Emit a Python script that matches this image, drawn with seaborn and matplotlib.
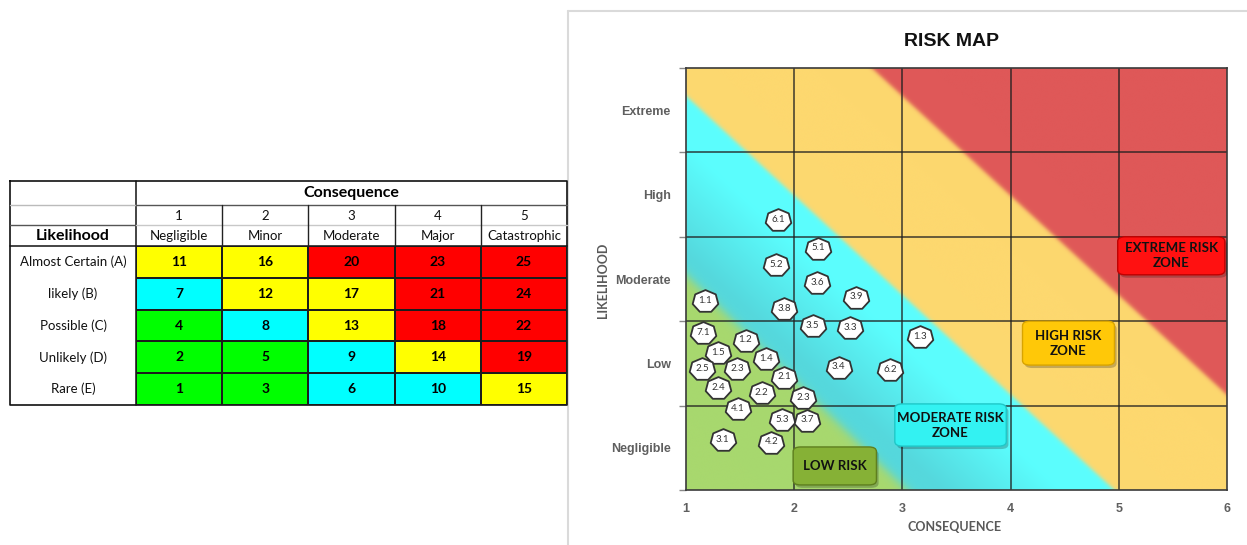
import numpy as np
import matplotlib
matplotlib.use("Agg")
import matplotlib.pyplot as plt
import seaborn as sns
from matplotlib.colors import ListedColormap, to_rgb
from matplotlib.patches import FancyBboxPatch
from matplotlib.path import Path

# ---------------- risk matrix (table) ----------------
likelihood_rows = ["Almost Certain (A)", "likely (B)", "Possible (C)", "Unlikely (D)", "Rare (E)"]
consequence_nums = ["1", "2", "3", "4", "5"]
consequence_names = ["Negligible", "Minor", "Moderate", "Major", "Catastrophic"]
risk_scores = [
    [11, 16, 20, 23, 25],
    [7, 12, 17, 21, 24],
    [4, 8, 13, 18, 22],
    [2, 5, 9, 14, 19],
    [1, 3, 6, 10, 15],
]
# rating of each cell: 0 = low, 1 = moderate, 2 = high, 3 = extreme
risk_rating = [
    [2, 2, 3, 3, 3],
    [1, 2, 2, 3, 3],
    [0, 1, 2, 3, 3],
    [0, 0, 1, 2, 3],
    [0, 0, 1, 1, 2],
]
rating_colors = ["#00FF00", "#00FFFF", "#FFFF00", "#FF0000"]

# ---------------- risk map ----------------
map_ylabels = ["Negligible", "Low", "Moderate", "High", "Extreme"]
map_xticks = [1, 2, 3, 4, 5, 6]
risk_ids = ["6.1", "5.1", "5.2", "3.6", "3.9", "1.1", "3.8", "3.5", "3.3", "1.3",
            "7.1", "1.2", "1.5", "1.4", "2.5", "2.3", "3.4", "6.2", "2.1", "2.4",
            "2.2", "2.3", "4.1", "5.3", "3.7", "3.1", "4.2"]
risk_consequence = [1.85, 2.22, 1.83, 2.21, 2.57, 1.18, 1.91, 2.17, 2.52, 3.16,
                    1.16, 1.55, 1.30, 1.74, 1.15, 1.47, 2.41, 2.89, 1.91, 1.30,
                    1.70, 2.08, 1.48, 1.89, 2.12, 1.34, 1.79]
risk_likelihood = [3.20, 2.86, 2.66, 2.45, 2.28, 2.24, 2.14, 1.94, 1.92, 1.81,
                   1.86, 1.77, 1.62, 1.55, 1.43, 1.43, 1.45, 1.42, 1.33, 1.21,
                   1.15, 1.09, 0.96, 0.83, 0.82, 0.59, 0.56]
zone_labels = ["LOW RISK", "MODERATE RISK\nZONE", "HIGH RISK\nZONE", "EXTREME RISK\nZONE"]

sns.set_theme(style="white")
plt.rcParams["font.family"] = ["Lato", "DejaVu Sans"]

W, H = 1247, 545
fig = plt.figure(figsize=(W / 100, H / 100), dpi=100)
fig.patch.set_facecolor("white")


def frac(l, t, r, b):
    return [l / W, 1 - b / H, (r - l) / W, (b - t) / H]


# pixel-space overlay for table header lines and the panel frame
ov = fig.add_axes([0, 0, 1, 1], zorder=0)
ov.set_xlim(0, W)
ov.set_ylim(H, 0)
ov.axis("off")

# panel frame around the map
ov.plot([568, 568], [H, 11], color="#DADADA", lw=1.5)
ov.plot([568, W], [11, 11], color="#DADADA", lw=1.5)

# ---- table ----
tl, tr, tt, tb = 10, 567, 181, 405
hl, ht = 136, 246
hm_ax = fig.add_axes(frac(hl, ht, tr, tb), zorder=2)
sns.heatmap(np.array(risk_rating), cmap=ListedColormap(rating_colors), vmin=-0.5, vmax=3.5,
            annot=np.array(risk_scores), fmt="d", cbar=False, linewidths=1.1, linecolor="#1c1c1c",
            annot_kws=dict(fontsize=10, fontweight="bold", color="black"),
            xticklabels=False, yticklabels=False, ax=hm_ax)
hm_ax.set_xlabel("")
hm_ax.set_ylabel("")

colw = (tr - hl) / 5
rowh = (tb - ht) / 5
ov.plot([tl, tr, tr, tl, tl], [tt, tt, tb, tb, tt], color="#111111", lw=1.2)
ov.plot([hl, hl], [tt, tb], color="#111111", lw=1.1)
ov.plot([tl, tr], [ht, ht], color="#111111", lw=1.1)
ov.plot([tl, hl], [205, 205], color="#BBBBBB", lw=1.0)
ov.plot([hl, tr], [205, 205], color="#555555", lw=1.0)
ov.plot([tl, hl], [225, 225], color="#555555", lw=1.0)
ov.plot([hl, tr], [225, 225], color="#C8C8C8", lw=1.0)
for j in range(1, 5):
    ov.plot([hl + j * colw] * 2, [205, ht], color="#222222", lw=1.0)

ov.text((hl + tr) / 2, 193, "Consequence", ha="center", va="center",
        fontsize=11.5, fontweight="bold", color="black")
ov.text((tl + hl) / 2, 236, "Likelihood", ha="center", va="center",
        fontsize=11.5, fontweight="bold", color="black")
for j in range(5):
    cx = hl + colw * (j + 0.5)
    ov.text(cx, 215.5, consequence_nums[j], ha="center", va="center", fontsize=9.5, color="#111111")
    ov.text(cx, 236, consequence_names[j], ha="center", va="center", fontsize=9.5, color="#111111")
for i, lab in enumerate(likelihood_rows):
    ov.text((tl + hl) / 2, ht + rowh * (i + 0.5), lab, ha="center", va="center",
            fontsize=9.5, color="#111111")

# ---- risk map ----
mx = fig.add_axes(frac(686, 68, 1227, 490), zorder=2)

gx = np.linspace(1, 6, 1100)
gy = np.linspace(0, 5, 860)
GX, GY = np.meshgrid(gx, gy)


def edge(m, c, w):
    s = GY + m * (GX - 1) - c
    return (1 / (1 + np.exp(-s / w)))[..., None]


green = np.array(to_rgb("#A8D86E"))
teal = np.array(to_rgb("#55D8DD"))
bright = np.array(to_rgb("#5BFEFE"))
yellow = np.array(to_rgb("#FDD86F"))
red = np.array(to_rgb("#DF5858"))

u = np.clip((GY + 1.18 * (GX - 1) - 2.8) / 1.3, 0, 1)[..., None]
cyan = teal * (1 - u) + bright * u
a1 = edge(1.25, 2.55, 0.045)
img = green * (1 - a1) + cyan * a1
a2 = edge(1.18, 4.67, 0.018)
img = img * (1 - a2) + yellow * a2
a3 = edge(1.18, 7.03, 0.018)
img = img * (1 - a3) + red * a3
mx.imshow(img, extent=(1, 6, 0, 5), origin="lower", aspect="auto", zorder=0, interpolation="bilinear")

mx.set_xlim(1, 6)
mx.set_ylim(0, 5)
for v in range(2, 6):
    mx.axvline(v, color="#202020", lw=1.2, alpha=0.8, zorder=1)
for v in range(1, 5):
    mx.axhline(v, color="#202020", lw=1.2, alpha=0.8, zorder=1)
for sp in mx.spines.values():
    sp.set_color("#3a3a3a")
    sp.set_linewidth(1.2)

# heptagon marker, slightly wider than tall
ang = np.pi / 2 + np.arange(7) * 2 * np.pi / 7
verts = np.column_stack([1.15 * np.cos(ang), np.sin(ang)])
verts = np.vstack([verts, verts[:1]])
hepta = Path(verts, [Path.MOVETO] + [Path.LINETO] * 6 + [Path.CLOSEPOLY])

sns.scatterplot(x=risk_consequence, y=risk_likelihood, marker=hepta, s=340, color="white",
                edgecolor="#333333", linewidth=1.3, zorder=5, legend=False, ax=mx)
for rid, xv, yv in zip(risk_ids, risk_consequence, risk_likelihood):
    mx.text(xv, yv + 0.01, rid, ha="center", va="center", fontsize=7, color="#333333", zorder=6)

# zone label boxes
zone_boxes = [
    (1.99, 0.06, 0.77, 0.45, "#86B136", "#5E7F1E"),
    (2.93, 0.52, 1.03, 0.50, "#33F2F2", "#1FC8C8"),
    (4.11, 1.48, 0.85, 0.52, "#FFC808", "#D9A400"),
    (4.99, 2.55, 0.99, 0.45, "#FF1111", "#C20000"),
]
asp = 84.4 / 108.2
for lab, (x0, y0, bw, bh, fc, ec) in zip(zone_labels, zone_boxes):
    sh = FancyBboxPatch((x0 + 0.02, y0 - 0.035), bw, bh, boxstyle="round,pad=0,rounding_size=0.07",
                        mutation_aspect=asp, fc="#000000", ec="none", alpha=0.22, zorder=6)
    mx.add_patch(sh)
    bx = FancyBboxPatch((x0, y0), bw, bh, boxstyle="round,pad=0,rounding_size=0.07",
                        mutation_aspect=asp, fc=fc, ec=ec, lw=1.0, zorder=7)
    mx.add_patch(bx)
    mx.text(x0 + bw / 2, y0 + bh / 2, lab, ha="center", va="center", fontsize=9.5,
            fontweight="bold", color="#111111", linespacing=1.3, zorder=8)

mx.set_xticks(map_xticks)
mx.set_xticklabels([str(v) for v in map_xticks])
mx.set_yticks(range(0, 6))
mx.set_yticklabels([])
mx.set_yticks(np.arange(5) + 0.5, minor=True)
mx.set_yticklabels(map_ylabels, minor=True)
mx.tick_params(axis="x", length=0, pad=9)
mx.tick_params(axis="y", which="major", length=5, color="#888888", width=1, left=True)
mx.tick_params(axis="y", which="minor", length=0, pad=11)
for t in mx.get_xticklabels() + mx.get_yticklabels(minor=True):
    t.set_fontfamily(["Liberation Sans", "DejaVu Sans"])
    t.set_fontweight("bold")
    t.set_fontsize(9)
    t.set_color("#5f5f5f")
mx.set_xlabel("")
mx.set_ylabel("")

fig.text(952 / W, 1 - 42 / H, "RISK MAP", ha="center", va="center", fontsize=14,
         fontweight="bold", family=["Liberation Sans", "DejaVu Sans"], color="#111111")
fig.text(955 / W, 1 - 527 / H, "CONSEQUENCE", ha="center", va="center", fontsize=9,
         fontweight="bold", color="#595959")
fig.text(603 / W, 1 - 280 / H, "LIKELIHOOD", ha="center", va="center", fontsize=9,
         fontweight="bold", color="#595959", rotation=90)

fig.savefig("out.png", dpi=100, facecolor="white")
